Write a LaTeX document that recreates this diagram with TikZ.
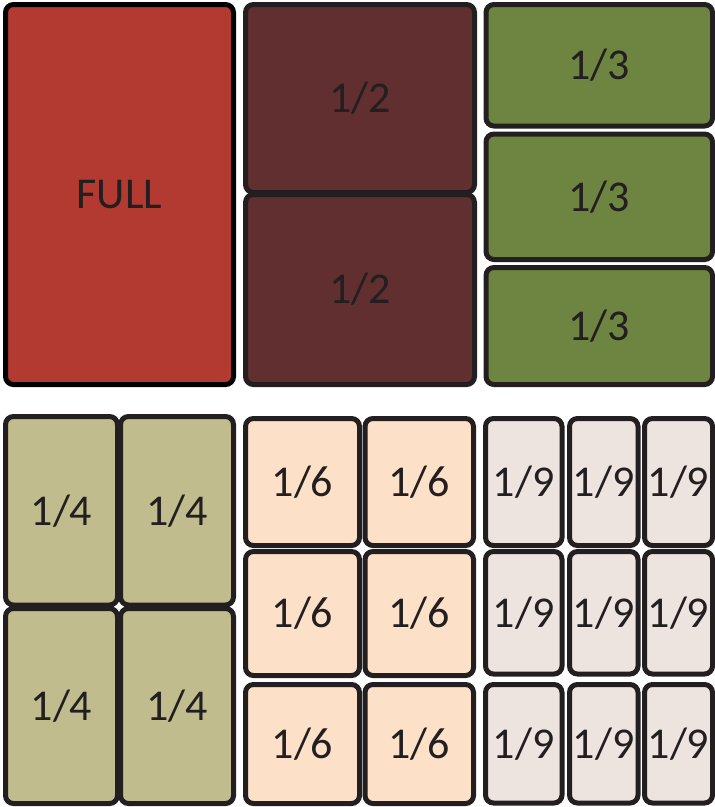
\documentclass[tikz,border=0pt]{standalone}
\usepackage{fontspec}
\setmainfont{Carlito}
\definecolor{strokec}{HTML}{231F20}
\definecolor{fullc}{HTML}{B33A30}
\definecolor{halfc}{HTML}{622F30}
\definecolor{thirdc}{HTML}{6D8540}
\definecolor{quartc}{HTML}{C1BC8D}
\definecolor{sixthc}{HTML}{FDE0C8}
\definecolor{ninthc}{HTML}{EDE4E0}
\tikzset{
  cellbox/.style={draw=strokec, line width=5pt, rounded corners=8pt, inner sep=0pt,
    text=strokec, font=\fontsize{44}{52}\selectfont}
}
\newcommand\cell[8][strokec]{\node[cellbox,draw=#1,fill=#7,minimum width={(#5-#3)*1pt},minimum height={(#6-#4)*1pt}] (#2) at ({(#3+#5)/2},{(#4+#6)/2}) {#8};}
\begin{document}
\begin{tikzpicture}[x=1pt,y=-1pt]
\useasboundingbox (0,0) rectangle (715,807);
% FULL
\cell[black]{full}{5.5}{4.5}{233.5}{384.5}{fullc}{FULL}
% halves
\cell{h1}{245.5}{4.5}{474.5}{192.5}{halfc}{1/2}
\cell{h2}{245.5}{194.5}{474.5}{384.5}{halfc}{1/2}
% thirds
\cell{t1}{486}{4.5}{712.5}{126}{thirdc}{1/3}
\cell{t2}{486}{134}{712.5}{259.5}{thirdc}{1/3}
\cell{t3}{486}{267.5}{712.5}{384.5}{thirdc}{1/3}
% quarters
\cell{q1}{5.5}{416.5}{117.5}{605}{quartc}{1/4}
\cell{q2}{120.5}{416.5}{233.5}{605}{quartc}{1/4}
\cell{q3}{5.5}{608.5}{117.5}{803.5}{quartc}{1/4}
\cell{q4}{120.5}{608.5}{233.5}{803.5}{quartc}{1/4}
% sixths
\cell{s1}{245.5}{418.5}{359.5}{545.5}{sixthc}{1/6}
\cell{s2}{365}{418.5}{473.5}{545.5}{sixthc}{1/6}
\cell{s3}{245.5}{551.5}{359.5}{675.5}{sixthc}{1/6}
\cell{s4}{365}{551.5}{473.5}{675.5}{sixthc}{1/6}
\cell{s5}{245.5}{684.5}{359.5}{803.5}{sixthc}{1/6}
\cell{s6}{365}{684.5}{473.5}{803.5}{sixthc}{1/6}
% ninths
\cell{n1}{485.5}{418.5}{562}{545.5}{ninthc}{1/9}
\cell{n2}{569.5}{418.5}{638}{545.5}{ninthc}{1/9}
\cell{n3}{644.5}{418.5}{712.5}{545.5}{ninthc}{1/9}
\cell{n4}{485.5}{551.5}{562}{674}{ninthc}{1/9}
\cell{n5}{569.5}{551.5}{638}{674}{ninthc}{1/9}
\cell{n6}{644.5}{551.5}{712.5}{674}{ninthc}{1/9}
\cell{n7}{485.5}{684.5}{562}{803}{ninthc}{1/9}
\cell{n8}{569.5}{684.5}{638}{803}{ninthc}{1/9}
\cell{n9}{644.5}{684.5}{712.5}{803}{ninthc}{1/9}
\end{tikzpicture}
\end{document}
